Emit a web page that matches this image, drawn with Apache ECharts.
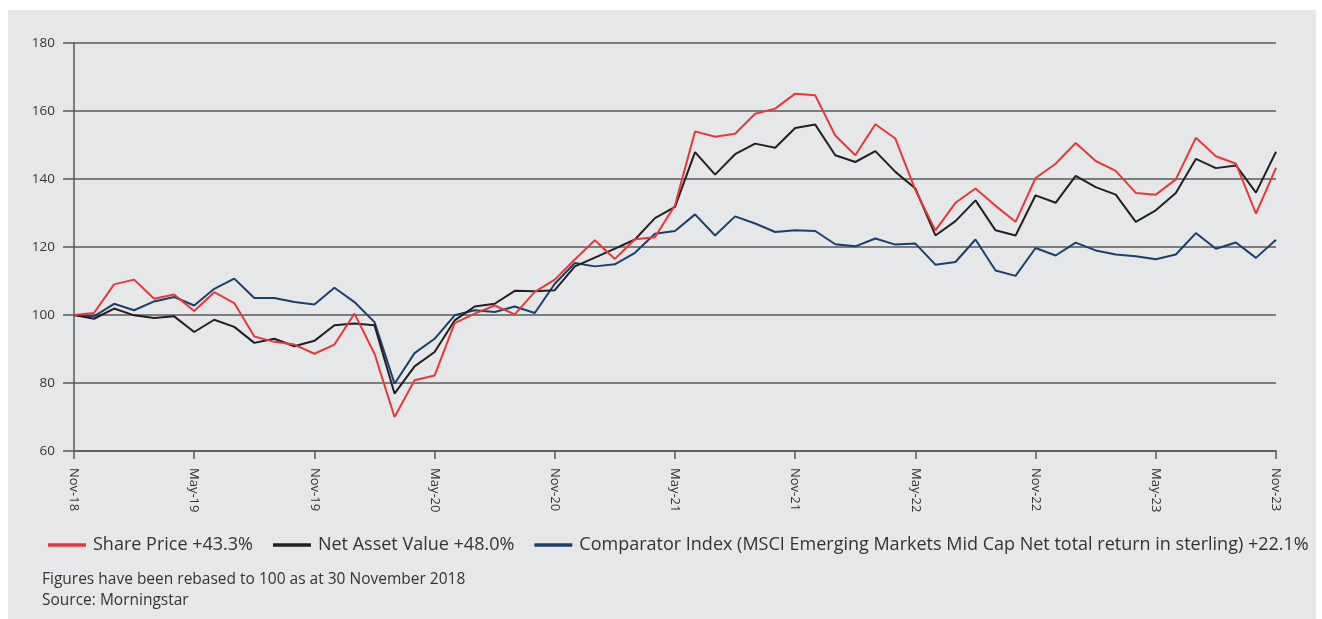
<!DOCTYPE html>
<html>
<head>
<meta charset="utf-8">
<script src="https://cdn.jsdelivr.net/npm/echarts@6/dist/echarts.min.js"></script>
<style>
html,body{margin:0;padding:0;background:#ffffff;}
#chart{width:1322px;height:619px;}
</style>
</head>
<body>
<div id="chart"></div>
<script>
const categories = [
 'Nov-18','Dec-18','Jan-19','Feb-19','Mar-19','Apr-19','May-19','Jun-19','Jul-19','Aug-19','Sep-19','Oct-19',
 'Nov-19','Dec-19','Jan-20','Feb-20','Mar-20','Apr-20','May-20','Jun-20','Jul-20','Aug-20','Sep-20','Oct-20',
 'Nov-20','Dec-20','Jan-21','Feb-21','Mar-21','Apr-21','May-21','Jun-21','Jul-21','Aug-21','Sep-21','Oct-21',
 'Nov-21','Dec-21','Jan-22','Feb-22','Mar-22','Apr-22','May-22','Jun-22','Jul-22','Aug-22','Sep-22','Oct-22',
 'Nov-22','Dec-22','Jan-23','Feb-23','Mar-23','Apr-23','May-23','Jun-23','Jul-23','Aug-23','Sep-23','Oct-23',
 'Nov-23'
];
const sharePrice = [
 100.0,100.6,109.0,110.4,104.8,106.0,101.2,106.7,103.5,93.7,92.1,91.3,
 88.6,91.3,100.4,88.6,70.0,80.8,82.2,97.6,100.4,102.8,100.2,106.8,
 110.4,116.3,122.0,116.5,122.3,122.9,132.3,154.0,152.4,153.3,159.2,160.7,
 165.1,164.6,152.8,147.0,156.1,151.9,136.7,124.9,133.0,137.2,132.1,127.4,
 140.3,144.5,150.6,145.3,142.4,135.9,135.4,139.9,152.1,146.7,144.5,129.8,
 143.3
];
const netAssetValue = [
 100.0,98.9,101.9,99.9,99.1,99.6,95.0,98.6,96.5,91.8,93.0,90.8,
 92.4,97.0,97.5,97.0,76.9,84.9,89.1,98.4,102.5,103.3,107.1,107.0,
 107.3,114.3,116.9,119.5,122.2,128.5,131.8,147.9,141.3,147.3,150.4,149.2,
 155.0,156.0,147.0,145.0,148.2,142.1,137.2,123.4,127.6,133.7,124.9,123.4,
 135.2,133.0,140.9,137.6,135.4,127.4,130.8,135.9,145.9,143.2,144.0,136.0,
 148.0
];
const comparatorIndex = [
 100.0,99.6,103.3,101.4,104.0,105.3,102.8,107.7,110.7,105.0,105.0,103.8,
 103.1,108.0,103.8,97.9,79.8,88.8,93.0,99.9,101.4,100.9,102.5,100.6,
 109.2,115.3,114.3,114.9,118.3,123.9,124.7,129.6,123.4,129.0,126.9,124.4,
 124.9,124.7,120.8,120.2,122.5,120.7,121.0,114.8,115.6,122.2,113.1,111.5,
 119.7,117.5,121.3,119.0,117.8,117.3,116.4,117.8,124.1,119.5,121.3,116.8,
 122.1
];
const seriesNames = [
 'Share Price +43.3%',
 'Net Asset Value +48.0%',
 'Comparator Index (MSCI Emerging Markets Mid Cap Net total return in sterling) +22.1%'
];
const footnotes = [
 'Figures have been rebased to 100 as at 30 November 2018',
 'Source: Morningstar'
];
const colors = ['#e8373b', '#231f20', '#1c3e6c'];
const axisColor = '#58585a';
const textColor = '#333333';
const fontFamily = '"Open Sans", Roboto, sans-serif';

const chart = echarts.init(document.getElementById('chart'), null, {renderer: 'canvas'});
const option = {
  animation: false,
  textStyle: {fontFamily: fontFamily},
  graphic: [
    {type: 'rect', z: -10, silent: true, shape: {x: 8, y: 10, width: 1308, height: 609},
     style: {fill: '#e6e7e9'}},
    {type: 'text', left: 42, top: 572, style: {text: footnotes[0], fill: textColor, font: '15.5px ' + fontFamily}},
    {type: 'text', left: 42, top: 593, style: {text: footnotes[1], fill: textColor, font: '15.5px ' + fontFamily}}
  ],
  grid: {left: 74, right: 46, top: 43, bottom: 168, containLabel: false},
  legend: {
    left: 43, top: 531,
    icon: 'rect', itemWidth: 38, itemHeight: 3.5, itemGap: 20,
    textStyle: {fontSize: 18, color: textColor, fontFamily: fontFamily, padding: [0, 0, 0, 2]},
    data: seriesNames
  },
  xAxis: {
    type: 'category', data: categories, boundaryGap: false,
    axisLine: {show: true, lineStyle: {color: axisColor, width: 1.5}},
    axisTick: {show: true, interval: 5, length: 8, lineStyle: {color: axisColor, width: 1.5}},
    axisLabel: {interval: 5, rotate: -90, margin: 17, color: textColor, fontSize: 13, fontFamily: fontFamily},
    splitLine: {show: false}
  },
  yAxis: {
    type: 'value', min: 60, max: 180, interval: 20,
    axisLine: {show: true, lineStyle: {color: axisColor, width: 1.5}},
    axisTick: {show: true, length: 11, lineStyle: {color: axisColor, width: 1.5}},
    axisLabel: {margin: 19, color: textColor, fontSize: 13.5, fontFamily: fontFamily},
    splitLine: {show: true, lineStyle: {color: axisColor, width: 1.5}}
  },
  series: [
    {name: seriesNames[0], type: 'line', data: sharePrice, symbol: 'none', z: 3,
     lineStyle: {color: colors[0], width: 2}, itemStyle: {color: colors[0]}},
    {name: seriesNames[1], type: 'line', data: netAssetValue, symbol: 'none', z: 2,
     lineStyle: {color: colors[1], width: 2}, itemStyle: {color: colors[1]}},
    {name: seriesNames[2], type: 'line', data: comparatorIndex, symbol: 'none', z: 1,
     lineStyle: {color: colors[2], width: 2}, itemStyle: {color: colors[2]}}
  ]
};
chart.setOption(option);
</script>
</body>
</html>
